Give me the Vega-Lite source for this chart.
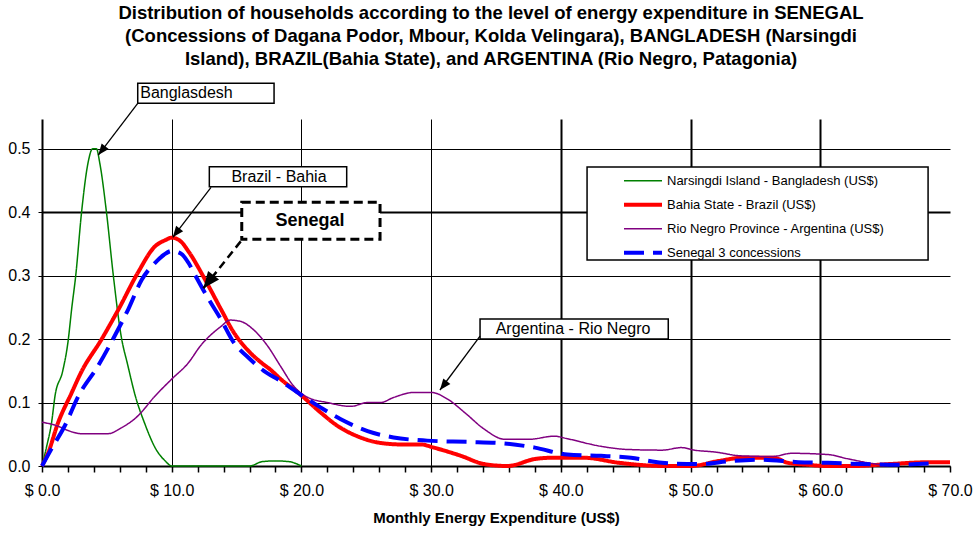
{
  "$schema": "https://vega.github.io/schema/vega-lite/v6.json",
  "width": 908,
  "height": 347,
  "autosize": {"type": "none"},
  "padding": {"left": 42, "top": 119, "right": 27, "bottom": 71},
  "background": "white",
  "title": {
    "text": [
      "Distribution of households according to the level of energy expenditure in SENEGAL",
      "(Concessions of Dagana Podor, Mbour, Kolda Velingara), BANGLADESH (Narsingdi",
      "Island), BRAZIL(Bahia State), and ARGENTINA (Rio Negro, Patagonia)"
    ],
    "frame": "group",
    "anchor": "middle",
    "dx": -5,
    "font": "Liberation Sans",
    "fontSize": 18.5,
    "fontWeight": "bold",
    "lineHeight": 23,
    "offset": 14,
    "color": "black"
  },
  "config": {
    "view": {"stroke": null},
    "font": "Liberation Sans",
    "legend": {
      "orient": "none",
      "legendX": 580,
      "legendY": 50,
      "title": null,
      "labelFontSize": 13,
      "labelFont": "Liberation Sans",
      "labelColor": "black",
      "labelLimit": 400,
      "symbolType": "stroke",
      "symbolSize": 1444,
      "clipHeight": 23.5,
      "rowPadding": 0,
      "labelOffset": 3,
      "padding": 0
    }
  },
  "datasets": {
    "series": [
      {"x": 0, "y": 0, "s": "Narsingdi Island - Bangladesh (US$)"},
      {"x": 0.35, "y": 0.03, "s": "Narsingdi Island - Bangladesh (US$)"},
      {"x": 0.75, "y": 0.07, "s": "Narsingdi Island - Bangladesh (US$)"},
      {"x": 1.0, "y": 0.11, "s": "Narsingdi Island - Bangladesh (US$)"},
      {"x": 1.6, "y": 0.15, "s": "Narsingdi Island - Bangladesh (US$)"},
      {"x": 2.0, "y": 0.195, "s": "Narsingdi Island - Bangladesh (US$)"},
      {"x": 2.3, "y": 0.25, "s": "Narsingdi Island - Bangladesh (US$)"},
      {"x": 2.6, "y": 0.3, "s": "Narsingdi Island - Bangladesh (US$)"},
      {"x": 3.05, "y": 0.4, "s": "Narsingdi Island - Bangladesh (US$)"},
      {"x": 3.55, "y": 0.478, "s": "Narsingdi Island - Bangladesh (US$)"},
      {"x": 3.9, "y": 0.5, "s": "Narsingdi Island - Bangladesh (US$)"},
      {"x": 4.2, "y": 0.5, "s": "Narsingdi Island - Bangladesh (US$)"},
      {"x": 4.45, "y": 0.478, "s": "Narsingdi Island - Bangladesh (US$)"},
      {"x": 4.97, "y": 0.4, "s": "Narsingdi Island - Bangladesh (US$)"},
      {"x": 5.5, "y": 0.3, "s": "Narsingdi Island - Bangladesh (US$)"},
      {"x": 6.1, "y": 0.205, "s": "Narsingdi Island - Bangladesh (US$)"},
      {"x": 6.6, "y": 0.16, "s": "Narsingdi Island - Bangladesh (US$)"},
      {"x": 7.2, "y": 0.11, "s": "Narsingdi Island - Bangladesh (US$)"},
      {"x": 7.9, "y": 0.068, "s": "Narsingdi Island - Bangladesh (US$)"},
      {"x": 8.8, "y": 0.026, "s": "Narsingdi Island - Bangladesh (US$)"},
      {"x": 9.5, "y": 0.008, "s": "Narsingdi Island - Bangladesh (US$)"},
      {"x": 10, "y": 0, "s": "Narsingdi Island - Bangladesh (US$)"},
      {"x": 12, "y": 0, "s": "Narsingdi Island - Bangladesh (US$)"},
      {"x": 14, "y": 0, "s": "Narsingdi Island - Bangladesh (US$)"},
      {"x": 16, "y": 0, "s": "Narsingdi Island - Bangladesh (US$)"},
      {"x": 17, "y": 0.007, "s": "Narsingdi Island - Bangladesh (US$)"},
      {"x": 18, "y": 0.008, "s": "Narsingdi Island - Bangladesh (US$)"},
      {"x": 19, "y": 0.007, "s": "Narsingdi Island - Bangladesh (US$)"},
      {"x": 20, "y": 0, "s": "Narsingdi Island - Bangladesh (US$)"},

      {"x": 0, "y": 0, "s": "Bahia State - Brazil (US$)"},
      {"x": 0.5, "y": 0.022, "s": "Bahia State - Brazil (US$)"},
      {"x": 1.2, "y": 0.066, "s": "Bahia State - Brazil (US$)"},
      {"x": 2.3, "y": 0.116, "s": "Bahia State - Brazil (US$)"},
      {"x": 3.0, "y": 0.147, "s": "Bahia State - Brazil (US$)"},
      {"x": 4.6, "y": 0.2, "s": "Bahia State - Brazil (US$)"},
      {"x": 5.9, "y": 0.247, "s": "Bahia State - Brazil (US$)"},
      {"x": 7.4, "y": 0.305, "s": "Bahia State - Brazil (US$)"},
      {"x": 8.7, "y": 0.346, "s": "Bahia State - Brazil (US$)"},
      {"x": 9.5, "y": 0.356, "s": "Bahia State - Brazil (US$)"},
      {"x": 10, "y": 0.36, "s": "Bahia State - Brazil (US$)"},
      {"x": 10.7, "y": 0.354, "s": "Bahia State - Brazil (US$)"},
      {"x": 11.3, "y": 0.338, "s": "Bahia State - Brazil (US$)"},
      {"x": 12.7, "y": 0.289, "s": "Bahia State - Brazil (US$)"},
      {"x": 13.8, "y": 0.247, "s": "Bahia State - Brazil (US$)"},
      {"x": 14.8, "y": 0.21, "s": "Bahia State - Brazil (US$)"},
      {"x": 15.8, "y": 0.184, "s": "Bahia State - Brazil (US$)"},
      {"x": 16.9, "y": 0.163, "s": "Bahia State - Brazil (US$)"},
      {"x": 17.6, "y": 0.152, "s": "Bahia State - Brazil (US$)"},
      {"x": 18.4, "y": 0.137, "s": "Bahia State - Brazil (US$)"},
      {"x": 19.9, "y": 0.113, "s": "Bahia State - Brazil (US$)"},
      {"x": 21.5, "y": 0.084, "s": "Bahia State - Brazil (US$)"},
      {"x": 22.8, "y": 0.063, "s": "Bahia State - Brazil (US$)"},
      {"x": 24.3, "y": 0.047, "s": "Bahia State - Brazil (US$)"},
      {"x": 25.9, "y": 0.037, "s": "Bahia State - Brazil (US$)"},
      {"x": 27.7, "y": 0.034, "s": "Bahia State - Brazil (US$)"},
      {"x": 29.2, "y": 0.034, "s": "Bahia State - Brazil (US$)"},
      {"x": 30.2, "y": 0.029, "s": "Bahia State - Brazil (US$)"},
      {"x": 32.3, "y": 0.016, "s": "Bahia State - Brazil (US$)"},
      {"x": 34.1, "y": 0.003, "s": "Bahia State - Brazil (US$)"},
      {"x": 35.9, "y": 0, "s": "Bahia State - Brazil (US$)"},
      {"x": 38, "y": 0.011, "s": "Bahia State - Brazil (US$)"},
      {"x": 39.3, "y": 0.013, "s": "Bahia State - Brazil (US$)"},
      {"x": 41.8, "y": 0.013, "s": "Bahia State - Brazil (US$)"},
      {"x": 44.5, "y": 0.005, "s": "Bahia State - Brazil (US$)"},
      {"x": 48, "y": 0, "s": "Bahia State - Brazil (US$)"},
      {"x": 50, "y": 0, "s": "Bahia State - Brazil (US$)"},
      {"x": 52.2, "y": 0.008, "s": "Bahia State - Brazil (US$)"},
      {"x": 54, "y": 0.013, "s": "Bahia State - Brazil (US$)"},
      {"x": 56.4, "y": 0.013, "s": "Bahia State - Brazil (US$)"},
      {"x": 57.5, "y": 0.005, "s": "Bahia State - Brazil (US$)"},
      {"x": 59, "y": 0.002, "s": "Bahia State - Brazil (US$)"},
      {"x": 60.5, "y": 0, "s": "Bahia State - Brazil (US$)"},
      {"x": 62.5, "y": 0, "s": "Bahia State - Brazil (US$)"},
      {"x": 65.3, "y": 0.003, "s": "Bahia State - Brazil (US$)"},
      {"x": 68.4, "y": 0.006, "s": "Bahia State - Brazil (US$)"},
      {"x": 70, "y": 0.006, "s": "Bahia State - Brazil (US$)"},

      {"x": 0, "y": 0.069, "s": "Rio Negro Province - Argentina (US$)"},
      {"x": 1.2, "y": 0.063, "s": "Rio Negro Province - Argentina (US$)"},
      {"x": 2.0, "y": 0.056, "s": "Rio Negro Province - Argentina (US$)"},
      {"x": 3.0, "y": 0.051, "s": "Rio Negro Province - Argentina (US$)"},
      {"x": 5.1, "y": 0.051, "s": "Rio Negro Province - Argentina (US$)"},
      {"x": 6.1, "y": 0.06, "s": "Rio Negro Province - Argentina (US$)"},
      {"x": 7.4, "y": 0.079, "s": "Rio Negro Province - Argentina (US$)"},
      {"x": 8.7, "y": 0.11, "s": "Rio Negro Province - Argentina (US$)"},
      {"x": 10, "y": 0.137, "s": "Rio Negro Province - Argentina (US$)"},
      {"x": 11.3, "y": 0.163, "s": "Rio Negro Province - Argentina (US$)"},
      {"x": 12.2, "y": 0.189, "s": "Rio Negro Province - Argentina (US$)"},
      {"x": 13.8, "y": 0.22, "s": "Rio Negro Province - Argentina (US$)"},
      {"x": 14.5, "y": 0.23, "s": "Rio Negro Province - Argentina (US$)"},
      {"x": 15.3, "y": 0.228, "s": "Rio Negro Province - Argentina (US$)"},
      {"x": 16.3, "y": 0.215, "s": "Rio Negro Province - Argentina (US$)"},
      {"x": 17.4, "y": 0.189, "s": "Rio Negro Province - Argentina (US$)"},
      {"x": 18.4, "y": 0.157, "s": "Rio Negro Province - Argentina (US$)"},
      {"x": 19.4, "y": 0.126, "s": "Rio Negro Province - Argentina (US$)"},
      {"x": 20.5, "y": 0.108, "s": "Rio Negro Province - Argentina (US$)"},
      {"x": 22, "y": 0.1, "s": "Rio Negro Province - Argentina (US$)"},
      {"x": 23.8, "y": 0.094, "s": "Rio Negro Province - Argentina (US$)"},
      {"x": 25.1, "y": 0.1, "s": "Rio Negro Province - Argentina (US$)"},
      {"x": 26.1, "y": 0.1, "s": "Rio Negro Province - Argentina (US$)"},
      {"x": 27.1, "y": 0.108, "s": "Rio Negro Province - Argentina (US$)"},
      {"x": 28.7, "y": 0.116, "s": "Rio Negro Province - Argentina (US$)"},
      {"x": 30, "y": 0.116, "s": "Rio Negro Province - Argentina (US$)"},
      {"x": 31.3, "y": 0.105, "s": "Rio Negro Province - Argentina (US$)"},
      {"x": 32.6, "y": 0.084, "s": "Rio Negro Province - Argentina (US$)"},
      {"x": 34.1, "y": 0.058, "s": "Rio Negro Province - Argentina (US$)"},
      {"x": 35.7, "y": 0.042, "s": "Rio Negro Province - Argentina (US$)"},
      {"x": 37.5, "y": 0.042, "s": "Rio Negro Province - Argentina (US$)"},
      {"x": 39.5, "y": 0.047, "s": "Rio Negro Province - Argentina (US$)"},
      {"x": 40.5, "y": 0.043, "s": "Rio Negro Province - Argentina (US$)"},
      {"x": 43.1, "y": 0.031, "s": "Rio Negro Province - Argentina (US$)"},
      {"x": 45.2, "y": 0.026, "s": "Rio Negro Province - Argentina (US$)"},
      {"x": 47.8, "y": 0.025, "s": "Rio Negro Province - Argentina (US$)"},
      {"x": 49.3, "y": 0.029, "s": "Rio Negro Province - Argentina (US$)"},
      {"x": 50.3, "y": 0.025, "s": "Rio Negro Province - Argentina (US$)"},
      {"x": 51.9, "y": 0.022, "s": "Rio Negro Province - Argentina (US$)"},
      {"x": 53.9, "y": 0.016, "s": "Rio Negro Province - Argentina (US$)"},
      {"x": 56.3, "y": 0.015, "s": "Rio Negro Province - Argentina (US$)"},
      {"x": 57.8, "y": 0.02, "s": "Rio Negro Province - Argentina (US$)"},
      {"x": 60.6, "y": 0.018, "s": "Rio Negro Province - Argentina (US$)"},
      {"x": 62.2, "y": 0.011, "s": "Rio Negro Province - Argentina (US$)"},
      {"x": 63.7, "y": 0.005, "s": "Rio Negro Province - Argentina (US$)"},
      {"x": 65, "y": 0.001, "s": "Rio Negro Province - Argentina (US$)"},

      {"x": 0, "y": 0, "s": "Senegal 3 concessions"},
      {"x": 0.7, "y": 0.026, "s": "Senegal 3 concessions"},
      {"x": 1.75, "y": 0.063, "s": "Senegal 3 concessions"},
      {"x": 2.8, "y": 0.11, "s": "Senegal 3 concessions"},
      {"x": 4.3, "y": 0.157, "s": "Senegal 3 concessions"},
      {"x": 5.6, "y": 0.205, "s": "Senegal 3 concessions"},
      {"x": 6.65, "y": 0.247, "s": "Senegal 3 concessions"},
      {"x": 7.7, "y": 0.294, "s": "Senegal 3 concessions"},
      {"x": 8.7, "y": 0.32, "s": "Senegal 3 concessions"},
      {"x": 9.4, "y": 0.333, "s": "Senegal 3 concessions"},
      {"x": 10, "y": 0.339, "s": "Senegal 3 concessions"},
      {"x": 10.7, "y": 0.335, "s": "Senegal 3 concessions"},
      {"x": 11.3, "y": 0.32, "s": "Senegal 3 concessions"},
      {"x": 11.7, "y": 0.305, "s": "Senegal 3 concessions"},
      {"x": 12.7, "y": 0.268, "s": "Senegal 3 concessions"},
      {"x": 13.8, "y": 0.231, "s": "Senegal 3 concessions"},
      {"x": 14.8, "y": 0.194, "s": "Senegal 3 concessions"},
      {"x": 15.8, "y": 0.173, "s": "Senegal 3 concessions"},
      {"x": 17.1, "y": 0.15, "s": "Senegal 3 concessions"},
      {"x": 18.4, "y": 0.134, "s": "Senegal 3 concessions"},
      {"x": 19.9, "y": 0.113, "s": "Senegal 3 concessions"},
      {"x": 21.5, "y": 0.092, "s": "Senegal 3 concessions"},
      {"x": 23, "y": 0.074, "s": "Senegal 3 concessions"},
      {"x": 25.1, "y": 0.055, "s": "Senegal 3 concessions"},
      {"x": 27.1, "y": 0.045, "s": "Senegal 3 concessions"},
      {"x": 29.7, "y": 0.04, "s": "Senegal 3 concessions"},
      {"x": 32.8, "y": 0.038, "s": "Senegal 3 concessions"},
      {"x": 35.4, "y": 0.036, "s": "Senegal 3 concessions"},
      {"x": 38, "y": 0.029, "s": "Senegal 3 concessions"},
      {"x": 40.5, "y": 0.018, "s": "Senegal 3 concessions"},
      {"x": 43.1, "y": 0.016, "s": "Senegal 3 concessions"},
      {"x": 45.4, "y": 0.013, "s": "Senegal 3 concessions"},
      {"x": 47.8, "y": 0.005, "s": "Senegal 3 concessions"},
      {"x": 50.6, "y": 0.003, "s": "Senegal 3 concessions"},
      {"x": 53.2, "y": 0.008, "s": "Senegal 3 concessions"},
      {"x": 55.5, "y": 0.01, "s": "Senegal 3 concessions"},
      {"x": 58.3, "y": 0.006, "s": "Senegal 3 concessions"},
      {"x": 60.6, "y": 0.005, "s": "Senegal 3 concessions"},
      {"x": 63.2, "y": 0.003, "s": "Senegal 3 concessions"},
      {"x": 65.8, "y": 0.002, "s": "Senegal 3 concessions"},
      {"x": 68.4, "y": 0.004, "s": "Senegal 3 concessions"}
    ],
    "boxes": [
      {"name": "Banglasdesh", "x": 7.38, "x2": 17.89, "y": 0.5717, "y2": 0.6032, "kind": "solid"},
      {"name": "Brazil - Bahia", "x": 12.9, "x2": 23.49, "y": 0.4403, "y2": 0.4718, "kind": "solid"},
      {"name": "Senegal", "x": 15.4, "x2": 26.06, "y": 0.3573, "y2": 0.4157, "kind": "dashed"},
      {"name": "Argentina - Rio Negro", "x": 33.77, "x2": 48.28, "y": 0.2002, "y2": 0.2317, "kind": "solid"},
      {"name": "legend", "x": 42.02, "x2": 68.31, "y": 0.3247, "y2": 0.4713, "kind": "solid"}
    ],
    "labels": [
      {"text": "Banglasdesh", "x": 11.14, "y": 0.5875, "kind": "solid"},
      {"text": "Brazil - Bahia", "x": 18.27, "y": 0.456, "kind": "solid"},
      {"text": "Senegal", "x": 20.66, "y": 0.3865, "kind": "dashed"},
      {"text": "Argentina - Rio Negro", "x": 40.94, "y": 0.216, "kind": "solid"}
    ],
    "arrows": [
      {"x": 4.34, "y": 0.4902, "x2": 7.38, "y2": 0.5717, "kind": "solid"},
      {"x": 10.08, "y": 0.3605, "x2": 13.03, "y2": 0.4393, "kind": "solid"},
      {"x": 12.44, "y": 0.2801, "x2": 15.4, "y2": 0.3562, "kind": "dashed"},
      {"x": 30.68, "y": 0.1198, "x2": 33.77, "y2": 0.2049, "kind": "solid"}
    ]
  },
  "encoding": {
    "x": {
      "field": "x",
      "type": "quantitative",
      "scale": {"domain": [0, 70], "nice": false, "zero": false},
      "axis": {
        "title": "Monthly Energy Expenditure (US$)",
        "values": [0,2,4,6,8,10,12,14,16,18,20,22,24,26,28,30,32,34,36,38,40,42,44,46,48,50,52,54,56,58,60,62,64,66,68,70],
        "labelExpr": "datum.value % 10 === 0 ? '$ ' + format(datum.value, '.1f') : ''",
        "labelOverlap": false,
        "labelFlush": false,
        "labelFont": "Liberation Sans",
        "labelFontSize": 16,
        "labelColor": "black",
        "labelPadding": 10,
        "grid": true,
        "gridColor": "black",
        "gridOpacity": {"condition": {"test": "datum.value % 10 === 0 && datum.value > 0 && datum.value < 70", "value": 1}, "value": 0},
        "gridWidth": {"condition": {"test": "datum.value >= 40", "value": 2}, "value": 1},
        "domainColor": "black",
        "domainWidth": 2,
        "tickColor": "black",
        "tickSize": 6,
        "tickWidth": 1.5,
        "titleFont": "Liberation Sans",
        "titleFontSize": 15,
        "titleFontWeight": "bold",
        "titleColor": "black",
        "titlePadding": 12
      }
    },
    "y": {
      "field": "y",
      "type": "quantitative",
      "scale": {"domain": [0, 0.547], "nice": false, "zero": false},
      "axis": {
        "title": null,
        "values": [0, 0.1, 0.2, 0.3, 0.4, 0.5],
        "format": ".1f",
        "labelFont": "Liberation Sans",
        "labelFontSize": 16,
        "labelColor": "black",
        "labelPadding": 8,
        "grid": true,
        "gridColor": "black",
        "gridWidth": {"condition": {"test": "abs(datum.value - 0.4) < 0.000001", "value": 2}, "value": 1},
        "domainColor": "black",
        "domainWidth": 2,
        "tickColor": "black",
        "tickSize": 4
      }
    }
  },
  "layer": [
    {
      "data": {"name": "series"},
      "mark": {"type": "line", "interpolate": "monotone"},
      "encoding": {
        "color": {
          "field": "s", "type": "nominal",
          "scale": {
            "domain": ["Narsingdi Island - Bangladesh (US$)", "Bahia State - Brazil (US$)", "Rio Negro Province - Argentina (US$)", "Senegal 3 concessions"],
            "range": ["#008000", "#FF0000", "#800080", "#0000FF"]
          },
          "legend": {"title": null}
        },
        "strokeWidth": {
          "field": "s", "type": "nominal",
          "scale": {
            "type": "ordinal",
            "domain": ["Narsingdi Island - Bangladesh (US$)", "Bahia State - Brazil (US$)", "Rio Negro Province - Argentina (US$)", "Senegal 3 concessions"],
            "range": [1.5, 4, 1.5, 4]
          },
          "legend": {"title": null}
        },
        "strokeDash": {
          "field": "s", "type": "nominal",
          "scale": {
            "domain": ["Narsingdi Island - Bangladesh (US$)", "Bahia State - Brazil (US$)", "Rio Negro Province - Argentina (US$)", "Senegal 3 concessions"],
            "range": [[1, 0], [1, 0], [1, 0], [20, 9]]
          },
          "legend": {"title": null}
        }
      }
    },
    {
      "data": {"name": "boxes"},
      "transform": [{"filter": "datum.kind === 'solid'"}],
      "mark": {"type": "rect", "fill": "white", "stroke": "black", "strokeWidth": 1.5},
      "encoding": {"x2": {"field": "x2"}, "y2": {"field": "y2"}}
    },
    {
      "data": {"name": "boxes"},
      "transform": [{"filter": "datum.kind === 'dashed'"}],
      "mark": {"type": "rect", "fill": "white", "stroke": "black", "strokeWidth": 3, "strokeDash": [9, 5]},
      "encoding": {"x2": {"field": "x2"}, "y2": {"field": "y2"}}
    },
    {
      "data": {"name": "arrows"},
      "transform": [{"filter": "datum.kind === 'solid'"}],
      "mark": {"type": "rule", "color": "black", "strokeWidth": 1.3},
      "encoding": {"x2": {"field": "x2"}, "y2": {"field": "y2"}}
    },
    {
      "data": {"name": "arrows"},
      "transform": [{"filter": "datum.kind === 'dashed'"}],
      "mark": {"type": "rule", "color": "black", "strokeWidth": 2.5, "strokeDash": [8, 5]},
      "encoding": {"x2": {"field": "x2"}, "y2": {"field": "y2"}}
    },
    {
      "data": {"name": "arrows"},
      "transform": [{"filter": "datum.kind === 'solid'"}],
      "mark": {"type": "point", "shape": "M0,0L-0.4,1L0.4,1Z", "filled": true, "color": "black", "opacity": 1, "size": 500, "angle": 218, "strokeWidth": 0},
      "encoding": {}
    },
    {
      "data": {"name": "arrows"},
      "transform": [{"filter": "datum.kind === 'dashed'"}],
      "mark": {"type": "point", "shape": "M0,0L-0.42,1L0.42,1Z", "filled": true, "color": "black", "opacity": 1, "size": 1100, "angle": 218, "strokeWidth": 0},
      "encoding": {}
    },
    {
      "data": {"name": "labels"},
      "transform": [{"filter": "datum.kind === 'solid'"}],
      "mark": {"type": "text", "font": "Liberation Sans", "fontSize": 16, "color": "black", "align": "center", "baseline": "middle"},
      "encoding": {"text": {"field": "text"}}
    },
    {
      "data": {"name": "labels"},
      "transform": [{"filter": "datum.kind === 'dashed'"}],
      "mark": {"type": "text", "font": "Liberation Sans", "fontSize": 18, "fontWeight": "bold", "color": "black", "align": "center", "baseline": "middle"},
      "encoding": {"text": {"field": "text"}}
    }
  ]
}
